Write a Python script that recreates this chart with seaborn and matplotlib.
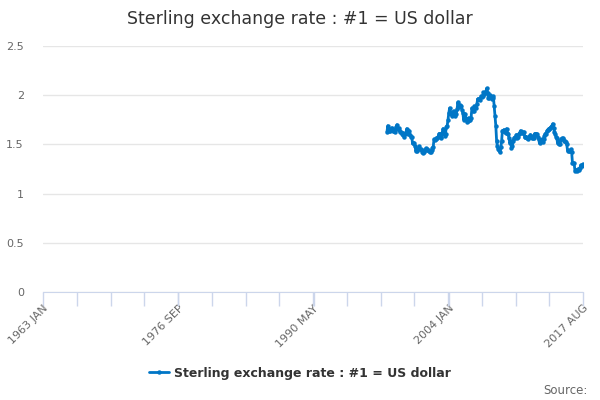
import matplotlib
matplotlib.use("Agg")
import matplotlib.pyplot as plt
import seaborn as sns
import numpy as np
import pandas as pd

sns.set_style("white")
plt.rcParams["font.family"] = ["DejaVu Sans"]

# monthly average, $ per #1, from 1997 OCT to 2017 AUG
start_month = "1997-10"
usd_rate = [
    1.63, 1.69, 1.66,
    1.64, 1.64, 1.66, 1.67, 1.64, 1.65, 1.64, 1.63, 1.68, 1.70, 1.66, 1.67,
    1.65, 1.63, 1.63, 1.61, 1.62, 1.60, 1.58, 1.61, 1.62, 1.66, 1.62, 1.61,
    1.64, 1.60, 1.58, 1.58, 1.51, 1.51, 1.51, 1.48, 1.43, 1.45, 1.43, 1.45,
    1.48, 1.45, 1.45, 1.44, 1.42, 1.41, 1.42, 1.44, 1.46, 1.45, 1.44, 1.44,
    1.43, 1.42, 1.42, 1.44, 1.46, 1.47, 1.55, 1.54, 1.55, 1.56, 1.57, 1.58,
    1.61, 1.61, 1.58, 1.57, 1.62, 1.66, 1.62, 1.59, 1.61, 1.68, 1.69, 1.75,
    1.82, 1.87, 1.83, 1.81, 1.79, 1.83, 1.84, 1.82, 1.79, 1.81, 1.86, 1.93,
    1.88, 1.89, 1.90, 1.89, 1.85, 1.82, 1.75, 1.79, 1.81, 1.76, 1.73, 1.74,
    1.77, 1.75, 1.75, 1.77, 1.87, 1.84, 1.84, 1.89, 1.88, 1.87, 1.91, 1.96,
    1.96, 1.96, 1.95, 1.99, 1.98, 1.99, 2.03, 2.01, 2.02, 2.04, 2.07, 2.02,
    1.97, 1.97, 2.00, 1.98, 1.96, 1.97, 1.99, 1.89, 1.79, 1.69, 1.53, 1.48,
    1.45, 1.44, 1.42, 1.47, 1.53, 1.64, 1.64, 1.65, 1.63, 1.62, 1.66, 1.62,
    1.61, 1.56, 1.51, 1.53, 1.46, 1.48, 1.53, 1.57, 1.56, 1.58, 1.60, 1.56,
    1.58, 1.61, 1.62, 1.64, 1.63, 1.62, 1.62, 1.63, 1.58, 1.58, 1.58, 1.56,
    1.55, 1.58, 1.58, 1.60, 1.59, 1.56, 1.56, 1.57, 1.61, 1.61, 1.60, 1.61,
    1.58, 1.55, 1.51, 1.53, 1.53, 1.55, 1.52, 1.55, 1.59, 1.61, 1.61, 1.64,
    1.65, 1.66, 1.66, 1.67, 1.68, 1.69, 1.71, 1.67, 1.63, 1.61, 1.58, 1.56,
    1.51, 1.53, 1.50, 1.50, 1.55, 1.56, 1.55, 1.56, 1.53, 1.53, 1.52, 1.50,
    1.44, 1.43, 1.43, 1.43, 1.45, 1.42, 1.31, 1.31, 1.31, 1.23, 1.24, 1.24,
    1.23, 1.25, 1.24, 1.26, 1.29, 1.28, 1.29, 1.30,
]
series_name = "Sterling exchange rate : #1 = US dollar"
label_ticks = ["1963 JAN", "1976 SEP", "1990 MAY", "2004 JAN", "2017 AUG"]

# full category axis, 1963 JAN .. 2017 AUG, mostly empty
months = pd.date_range("1963-01", "2017-08", freq="MS")
cats = [d.strftime("%Y %b").upper() for d in months]
df = pd.DataFrame({"month": cats, "idx": np.arange(len(cats)), "rate": np.nan})
first = cats.index(pd.Timestamp(start_month).strftime("%Y %b").upper())
df.loc[first:first + len(usd_rate) - 1, "rate"] = usd_rate

blue = "#0076c6"
fig = plt.figure(figsize=(6, 4), dpi=100)
ax = fig.add_axes([0.072, 0.27, 0.9, 0.615])

sns.lineplot(data=df.dropna(), x="idx", y="rate", ax=ax, color=blue,
             linewidth=2, marker="o", markersize=3.2, markeredgewidth=0,
             label=series_name)

n = len(cats) - 1
ax.set_xlim(0, n)
ax.set_ylim(0, 2.5)
ax.set_yticks([0, 0.5, 1, 1.5, 2, 2.5])
ax.set_yticklabels(["0", "0.5", "1", "1.5", "2", "2.5"])
ax.yaxis.grid(True, color="#e6e6e6", linewidth=1)
ax.set_xlabel("")
ax.set_ylabel("")

pos = [cats.index(l) for l in label_ticks]
ax.set_xticks(pos)
ax.set_xticklabels(label_ticks, rotation=45, ha="right", rotation_mode="anchor")
ax.set_xticks(np.linspace(0, n, 17), minor=True)
ax.tick_params(axis="x", which="both", bottom=True, direction="out",
               length=10, color="#ccd6eb", width=1)
ax.tick_params(axis="x", which="major", labelsize=8, labelcolor="#666666",
               pad=-2)
ax.tick_params(axis="y", length=0, labelsize=8, labelcolor="#666666", pad=14)

for s in ["top", "right", "left"]:
    ax.spines[s].set_visible(False)
ax.spines["bottom"].set_color("#ccd6eb")

fig.suptitle(series_name, y=0.975, fontsize=12.5, color="#333333")

ax.legend_.remove()
leg = fig.legend(loc="center", bbox_to_anchor=(0.5, 0.067), frameon=False,
                 prop={"weight": "bold", "size": 9}, handlelength=1.6,
                 handletextpad=0.4)
for t in leg.get_texts():
    t.set_color("#333333")

fig.text(0.98, 0.025, "Source:", ha="right", va="center", fontsize=8.5,
         color="#666666")

fig.savefig("out.png", dpi=100)
